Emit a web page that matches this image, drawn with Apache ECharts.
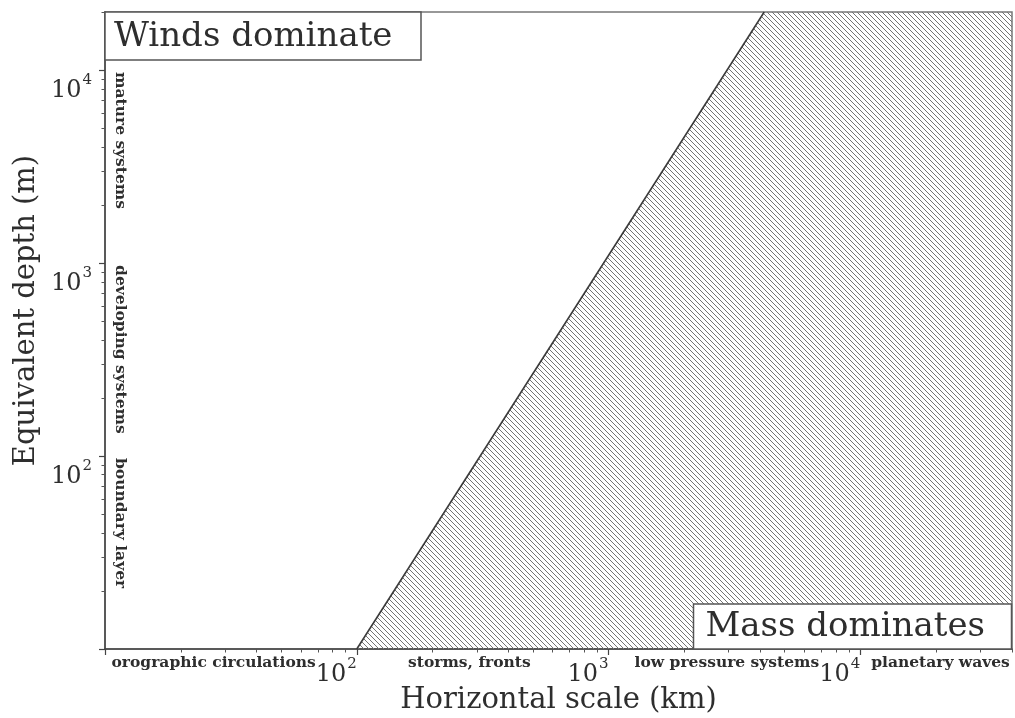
<!DOCTYPE html>
<html>
<head>
<meta charset="utf-8">
<script src="https://cdn.jsdelivr.net/npm/echarts@6/dist/echarts.min.js"></script>
<style>
  html, body { margin: 0; padding: 0; background: #fff; }
  #chart { width: 1015px; height: 718px; }
</style>
</head>
<body>
<div id="chart"></div>
<script>
// Axis ranges: horizontal scale (km) and equivalent depth (m)
const scaleRangeKm = [10, 40000];
const depthRangeM = [10, 20000];

// Boundary between wind- and mass-dominated adjustment (H grows as L squared)
const boundaryScaleKm = [100, 4150];
const boundaryDepthM = [10, 20000];

// Decade ticks and the ones that carry a label
const scaleDecades = [10, 100, 1000, 10000];
const depthDecades = [10, 100, 1000, 10000];
const labelledScaleDecades = [100, 1000, 10000];
const labelledDepthDecades = [100, 1000, 10000];

// Phenomena along each axis
const scaleRegimes = ['orographic circulations', 'storms, fronts', 'low pressure systems', 'planetary waves'];
const scaleRegimeAnchorsKm = [27, 280, 2950, 20800];
const depthRegimes = ['mature systems', 'developing systems', 'boundary layer'];
const depthRegimeStartsM = [10000, 1000, 100];

const windsLabel = 'Winds dominate';
const massLabel = 'Mass dominates';
const xName = 'Horizontal scale (km)';
const yName = 'Equivalent depth (m)';

const INK = '#2e2e2e';
const SERIF = '"DejaVu Serif", "Liberation Serif", serif';

// 2..9 times each decade inside the range
function minorTicks(range) {
  const out = [];
  const e0 = Math.floor(Math.log10(range[0]));
  const e1 = Math.ceil(Math.log10(range[1]));
  for (let e = e0; e <= e1; e++) {
    for (let k = 2; k <= 9; k++) {
      const v = k * Math.pow(10, e);
      if (v > range[0] && v <= range[1]) out.push(v);
    }
  }
  return out;
}

// "10" with the exponent raised
function powerLabel(v) {
  return '{b|10}{s|' + Math.round(Math.log10(v)) + '}';
}
const powerRich = {
  b: { fontFamily: SERIF, fontSize: 24, color: INK, lineHeight: 27 },
  s: { fontFamily: SERIF, fontSize: 15, color: INK, lineHeight: 15, padding: [0, 0, 20, 1] }
};

// Diagonal hatching tile
function hatchTile(size, color) {
  const c = document.createElement('canvas');
  c.width = size; c.height = size;
  const g = c.getContext('2d');
  g.strokeStyle = color;
  g.lineWidth = 1;
  g.beginPath();
  g.moveTo(-1, -1); g.lineTo(size + 1, size + 1);
  g.moveTo(-1, size - 1); g.lineTo(1, size + 1);
  g.moveTo(size - 1, -1); g.lineTo(size + 1, 1);
  g.stroke();
  return c;
}
const hatch = hatchTile(5, '#747474');

// Boxed annotations are sized to fixed widths; padding is worked out from the text width
const boxFont = { fontFamily: SERIF, fontSize: 34, fontWeight: 'normal', color: INK };
function textWidth(str, size, family, weight) {
  const g = document.createElement('canvas').getContext('2d');
  g.font = (weight || 'normal') + ' ' + size + 'px ' + family;
  return g.measureText(str).width;
}
function boxPadding(str, boxWidth, leftPad, vTop, vBottom) {
  const w = textWidth(str, boxFont.fontSize, SERIF, boxFont.fontWeight);
  return [vTop, Math.max(4, boxWidth - w - leftPad - 1.5), vBottom, leftPad];
}

const chart = echarts.init(document.getElementById('chart'), null, { renderer: 'canvas' });

chart.setOption({
  animation: false,
  backgroundColor: '#fff',
  grid: {
    left: 105, right: 3, top: 12, bottom: 69,
    containLabel: false, outerBoundsMode: 'none',
    show: true, borderColor: '#777', borderWidth: 1.5
  },
  title: [
    { text: windsLabel, left: 105, top: 12, padding: boxPadding(windsLabel, 318, 9, 8, 6),
      backgroundColor: '#fff', borderColor: '#555', borderWidth: 1.5, textStyle: boxFont },
    { text: massLabel, right: 3, bottom: 69, padding: boxPadding(massLabel, 320, 12, 6, 5),
      backgroundColor: '#fff', borderColor: '#555', borderWidth: 1.5, textStyle: boxFont }
  ],
  xAxis: [
    {
      type: 'log', logBase: 10, min: scaleRangeKm[0], max: scaleRangeKm[1], position: 'bottom',
      name: xName, nameLocation: 'middle', nameGap: 37, nameMoveOverlap: false,
      nameTextStyle: { fontFamily: SERIF, fontSize: 29, color: INK },
      axisLine: { show: true, lineStyle: { color: '#444', width: 1.5 } },
      axisTick: { show: true, customValues: scaleDecades, length: 6, lineStyle: { color: '#444', width: 1.2 } },
      axisLabel: { customValues: labelledScaleDecades, formatter: powerLabel, rich: powerRich,
        align: 'right', verticalAlign: 'top', margin: 12 },
      splitLine: { show: false }
    },
    {
      type: 'log', logBase: 10, min: scaleRangeKm[0], max: scaleRangeKm[1], position: 'bottom',
      axisLine: { show: false },
      axisTick: { show: true, customValues: minorTicks(scaleRangeKm), length: 3.5, lineStyle: { color: '#555', width: 1 } },
      axisLabel: { show: false },
      splitLine: { show: false }
    }
  ],
  yAxis: [
    {
      type: 'log', logBase: 10, min: depthRangeM[0], max: depthRangeM[1], position: 'left',
      name: yName, nameLocation: 'middle', nameGap: 64, nameMoveOverlap: false,
      nameTextStyle: { fontFamily: SERIF, fontSize: 29, color: INK, padding: [0, 0, 0, 40] },
      axisLine: { show: true, lineStyle: { color: '#444', width: 1.5 } },
      axisTick: { show: true, customValues: depthDecades, length: 6, lineStyle: { color: '#444', width: 1.2 } },
      axisLabel: { customValues: labelledDepthDecades, formatter: powerLabel, rich: powerRich,
        align: 'right', verticalAlign: 'top', margin: 13, padding: [7, 0, 0, 0] },
      splitLine: { show: false }
    },
    {
      type: 'log', logBase: 10, min: depthRangeM[0], max: depthRangeM[1], position: 'left',
      axisLine: { show: false },
      axisTick: { show: true, customValues: minorTicks(depthRangeM), length: 3.5, lineStyle: { color: '#555', width: 1 } },
      axisLabel: { show: false },
      splitLine: { show: false }
    }
  ],
  series: [
    {
      // hatched mass-dominated region, right of the boundary
      type: 'custom',
      xAxisIndex: 0, yAxisIndex: 0,
      silent: true, z: 1,
      data: [[boundaryScaleKm[0], boundaryDepthM[0]]],
      renderItem: function (params, api) {
        const corners = [
          [boundaryScaleKm[0], boundaryDepthM[0]],
          [boundaryScaleKm[1], boundaryDepthM[1]],
          [scaleRangeKm[1], depthRangeM[1]],
          [scaleRangeKm[1], depthRangeM[0]]
        ].map(function (p) { return api.coord(p); });
        return {
          type: 'polygon',
          shape: { points: corners },
          style: { fill: { image: hatch, repeat: 'repeat' }, stroke: null }
        };
      }
    },
    {
      type: 'line',
      xAxisIndex: 0, yAxisIndex: 0,
      silent: true, z: 3,
      symbol: 'none',
      data: boundaryScaleKm.map(function (x, i) { return [x, boundaryDepthM[i]]; }),
      lineStyle: { color: '#3a3a3a', width: 1.6 }
    }
  ]
});

// Phenomenon names along the axes, placed through the axis scales
const regimeFont = 'bold 15.5px ' + SERIF;
const graphics = [];
scaleRegimes.forEach(function (name, i) {
  const p = chart.convertToPixel({ xAxisIndex: 0, yAxisIndex: 0 }, [scaleRegimeAnchorsKm[i], depthRangeM[0]]);
  graphics.push({
    type: 'text', x: p[0], y: p[1] + 14, silent: true, z: 10,
    style: { text: name, font: regimeFont, fill: INK, textAlign: 'center', textVerticalAlign: 'middle' }
  });
});
depthRegimes.forEach(function (name, i) {
  const p = chart.convertToPixel({ xAxisIndex: 0, yAxisIndex: 0 }, [scaleRangeKm[0], depthRegimeStartsM[i]]);
  graphics.push({
    type: 'text', x: p[0] + 15, y: p[1] + 2, rotation: -Math.PI / 2, silent: true, z: 10,
    style: { text: name, font: regimeFont, fill: INK, textAlign: 'left', textVerticalAlign: 'middle' }
  });
});
chart.setOption({ graphic: graphics });
</script>
</body>
</html>
